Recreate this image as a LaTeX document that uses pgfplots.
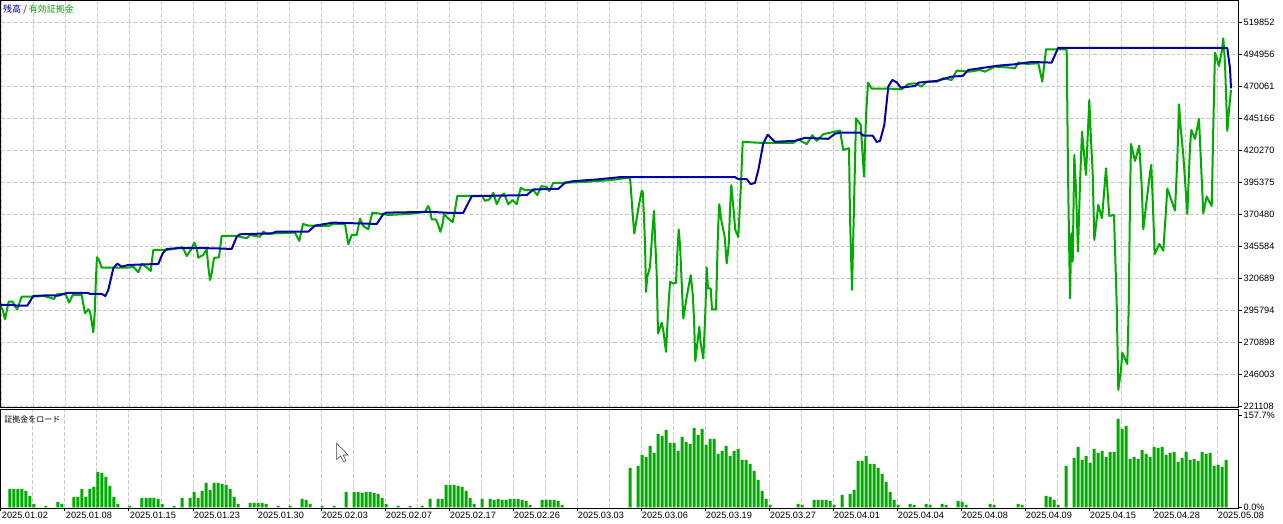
\documentclass[border=0pt]{standalone}
\usepackage{fontspec}
\usepackage{pgfplots}
\usepackage{pgfplotstable}
\pgfplotsset{compat=1.18}
\setmainfont{Liberation Sans}
\newfontfamily\cjk{Noto Sans CJK JP}
\definecolor{eqgreen}{HTML}{00AA00}
\definecolor{balblue}{HTML}{0000AA}
\definecolor{gridgray}{HTML}{C8C8C8}

% x is the screen column, one bar every 4 columns
\pgfplotstableread{
x y
0 300199
2.7 296309
5 289048
7.3 297606
8.7 302792
12.7 302800
15 298902
17.3 296828
19.3 301496
21.7 306682
33.3 306700
43.3 307201
50 305904
54 304867
56.7 308498
63.3 308757
66 307979
69 302014
72.7 307979
81.7 307979
85 293716
88.3 296828
90 295012
91.7 287233
93.3 278934
94.7 293716
96 322242
97 337283
99 335209
101.7 329244
128.3 329244
133.3 330022
138.3 325613
141.7 332097
146.7 329503
150.7 326651
153.3 342988
166.7 342988
173.3 343766
181.7 345063
184 342988
186.7 338321
191.7 344285
194.3 348694
196.7 344285
198.3 337024
203.3 339099
206.7 343507
208.3 330022
210 319649
211.7 324835
214 336765
219 337283
221.7 353880
236.7 353880
246.7 352065
250 354658
255 353880
260 353362
263.3 357252
266.7 355436
276.7 355955
295 356474
299.3 349990
301 355955
303 363216
308.3 361920
321.7 361660
328.3 361660
333.3 363216
345 363216
348.3 347397
351.7 354658
356.7 354658
360 367366
363.3 361660
368.3 359067
372.3 372033
381.7 370996
388.3 370218
408.3 370996
425 372552
428.3 377220
430 373961
431.7 366700
436 366700
438.3 362291
440.3 357104
442.7 363588
444 370849
448.3 367478
452.7 364625
455 373961
457.3 385112
481.7 385112
485 381222
489.3 382259
493.3 387446
496.7 378629
500.7 384853
504 386927
508.3 378629
512.7 381741
516.7 378629
520.7 391336
525 389521
533.3 389521
537.3 385631
541.3 392633
546.7 392114
549.3 388743
553.3 395226
563.3 395226
586.7 396004
610 397300
630 399375
631 389521
632.7 370071
634.3 355808
636.7 367478
638.3 375257
641.7 389002
642.7 388224
644 368774
645 348028
646 310425
647.3 322095
650 329875
652 353214
654 373442
655.3 348028
656.7 324688
658 278009
661.7 286307
663.3 280602
666 263746
668 293568
670 318205
673.3 316908
676 317427
677.3 340248
678.7 358920
680 346731
681.3 324688
683.3 289679
686.7 306535
690.7 323391
692.7 309128
694 289679
695.3 256484
697.7 272822
699.3 283195
700.7 270229
703.3 258559
705.3 293568
706.7 329356
708 313018
710.7 313018
712 296680
716 296680
718 358401
719.3 378629
721.3 366181
724.7 353214
726.7 332468
728.7 346731
730 373961
731.3 393411
733.3 376554
735.3 358401
738.3 353214
740.7 389521
742.7 427123
760 426345
793.3 426345
798.3 428939
806.7 425308
812.3 432310
816.7 427901
823.3 433088
840 435829
843.3 420787
849 422084
850 368921
852 311869
854 376701
856 445424
860.7 440237
864 400041
866 446720
868 473172
871.7 468504
888.3 468504
901.7 467986
908.3 472135
915 472653
921.7 470060
926.7 473950
936.7 473950
943.3 476543
951.7 475247
956.7 482508
970 481730
980 483027
985 481730
995 485620
1010 484842
1015 484323
1018.3 488732
1026.7 487695
1038.3 488213
1042.3 473950
1046 499105
1066.7 499105
1068 402634
1070 305386
1071.3 355955
1072.7 333912
1074.3 416898
1076 389668
1078 341692
1080 394854
1082 435051
1086 401338
1089.3 459687
1090.7 433754
1092.7 402634
1094.3 350768
1098.3 377998
1102 367625
1106 406524
1108.3 380591
1109.3 369440
1114 370218
1115.3 336505
1116.7 301496
1118.3 234070
1121 249630
1122.3 263115
1127.3 254298
1128.7 297606
1130 381888
1131 425455
1135 412230
1139.3 424159
1141.7 392261
1143.3 359067
1146.7 381888
1150 402634
1151.3 409118
1152.7 381888
1154.7 339877
1159.3 347656
1163.3 342470
1166 374108
1167.3 390705
1175 373589
1177.3 413008
1179 456316
1180.7 437644
1183.3 416898
1187.3 370996
1190 423381
1191.3 436347
1195 429345
1199 444905
1200.7 415601
1203.3 371515
1206.7 384481
1211.7 377220
1213.3 438941
1215 496512
1219 486139
1221.7 497290
1223.3 507663
1225 488213
1227.3 435569
1229 451907
1231 467467
}\equitydata

\pgfplotstableread{
x y
0 300199
13.3 300199
16.7 299680
27.3 299680
33.3 307201
48.3 307720
58.3 307460
66.7 309535
88.3 309535
90 308757
101.7 308757
105.3 307201
108.3 311869
113.3 328725
117.3 332356
121.7 330022
128.3 331319
158.3 332097
162.7 340395
166.7 343766
181.7 344544
213.3 344285
231.7 343766
236.7 353362
240 355177
271.7 355955
276.7 357252
308.3 357252
315 361920
333.3 364254
376.7 363216
383.3 370996
386.7 372033
430 372664
448.3 371886
463.3 371886
471.7 384853
526.7 385631
533.3 390039
558.3 390558
565 395226
573.3 396523
596.7 397819
620 399634
735 399634
738.3 398078
746.7 398078
750.7 394189
755 395226
758.3 405080
763.3 425827
767.7 432569
775 427123
795 427901
805 430235
828.3 429457
835 433347
840 434273
860 434273
863.3 431939
872.7 431939
876.7 427011
880 427789
884.3 440237
888.3 470060
892.3 475247
896.7 473431
900.7 469282
915 470579
918.3 473172
936.7 474469
951.7 477840
962.7 478359
968.3 483027
998.3 486398
1015 487435
1031.7 489251
1051.7 488732
1055 494697
1058 500142
1227.3 500142
1230 484323
1231 468764
}\balancedata

\pgfplotstableread{
x y
10 31.5
14 31.5
18 31.5
22 31.5
26 28.1
30 19.5
34 5.7
46 2.3
58 9.2
62 5.7
74 17.8
78 17.8
82 31.5
86 17.8
90 31.5
94 35.0
98 60.8
102 59.1
106 52.2
110 36.7
114 17.8
118 5.7
130 2.3
142 16.1
146 16.1
150 16.1
154 16.1
158 14.3
162 5.7
174 2.3
182 16.1
190 16.1
194 26.4
198 16.1
202 28.1
206 41.9
210 29.8
214 41.9
218 41.9
222 40.1
226 38.4
230 31.5
234 17.8
238 5.7
250 7.5
254 7.5
258 7.5
262 7.5
266 5.7
278 2.3
290 2.3
302 14.3
306 12.6
310 5.7
322 2.3
334 2.3
346 26.4
354 26.4
358 26.4
362 24.7
366 26.4
370 26.4
374 24.7
378 22.9
382 16.1
386 5.7
398 2.3
410 2.3
422 2.3
430 14.3
438 14.3
442 14.3
446 38.4
450 38.4
454 38.4
458 36.7
462 35.0
466 28.1
470 16.1
474 5.7
482 14.3
490 14.3
494 12.6
498 14.3
502 12.6
506 12.6
510 14.3
514 14.3
518 14.3
522 12.6
526 10.9
530 4.0
542 12.6
546 12.6
550 12.6
554 12.6
558 10.9
562 4.0
630 67.7
638 71.1
642 90.0
646 86.6
650 105.5
654 93.5
658 126.2
662 122.7
666 133.1
670 110.7
674 110.7
678 96.9
682 121.0
686 112.4
690 109.0
694 136.5
698 124.5
702 134.8
706 107.2
710 117.6
714 117.6
718 91.8
722 96.9
726 105.5
730 88.3
734 96.9
738 100.4
742 81.4
746 81.4
750 74.6
754 62.5
758 47.0
762 28.1
766 14.3
770 4.0
798 5.7
802 4.0
814 12.6
818 12.6
822 12.6
826 12.6
830 10.9
834 4.0
842 21.2
850 22.9
854 29.8
858 79.7
862 79.7
866 88.3
870 74.6
874 74.6
878 67.7
882 57.4
886 43.6
890 26.4
894 12.6
898 4.0
910 5.7
914 4.0
926 5.7
930 4.0
942 5.7
946 4.0
958 10.9
962 9.2
966 4.0
990 5.7
994 4.0
1018 5.7
1022 4.0
1046 19.5
1050 17.8
1054 12.6
1058 4.0
1066 71.1
1074 84.9
1078 103.8
1082 81.4
1086 88.3
1090 76.3
1094 100.4
1098 93.5
1102 96.9
1106 86.6
1110 95.2
1114 95.2
1118 152.0
1122 134.8
1126 139.9
1130 83.2
1134 86.6
1138 83.2
1142 98.6
1146 91.8
1150 86.6
1154 103.8
1158 102.1
1162 103.8
1166 90.0
1170 93.5
1174 95.2
1178 78.0
1182 84.9
1186 95.2
1190 81.4
1194 83.2
1198 79.7
1202 95.2
1206 91.8
1210 93.5
1214 71.1
1218 72.8
1222 69.4
1226 81.4
}\loaddata

\pgfplotsset{
  panel/.style={
    scale only axis, anchor=south west,
    width=928.65pt, xmin=0.5, xmax=1238.7,
    axis line style={black, line width=0.9pt},
    xtick={1,65,129,193,257,321,385,449,513,577,641,705,769,833,897,961,1025,1089,1153,1217},
    minor xtick={33,97,161,225,289,353,417,481,545,609,673,737,801,865,929,993,1057,1121,1185},
    xmajorgrids, xminorgrids,
    grid style={gridgray, line width=0.75pt, dash pattern=on 3pt off 1.5pt},
    minor tick length=0pt,
    ytick pos=right, xtick pos=bottom,
    tick align=outside, major tick length=2.25pt,
    tick style={black, line width=0.75pt},
    tick label style={font=\fontsize{6.9pt}{8pt}\selectfont},
    yticklabel style={anchor=west, inner sep=0pt, xshift=1.3pt, fill=white},
    scaled y ticks=false,
  },
}

\begin{document}
\begin{tikzpicture}
\useasboundingbox (0,0) rectangle (962.25pt,393pt);

\begin{axis}[panel, name=main,
    at={(0.375pt,87.525pt)}, height=305.25pt,
    ymin=220585, ymax=537227,
    ytick={221108,246003,270898,295794,320689,345584,370480,395375,420270,445166,470061,494956,519852},
    yticklabels={221108,246003,270898,295794,320689,345584,370480,395375,420270,445166,470061,494956,519852},
    xticklabels={}, ymajorgrids,
    x tick style={draw=none},
]
\addplot[eqgreen, line width=1.5pt, line join=round] table {\equitydata};
\addplot[balblue, line width=1.5pt, line join=round] table {\balancedata};
\node[anchor=north west, inner sep=0pt, font=\cjk\fontsize{6.75pt}{8pt}\selectfont]
  at (rel axis cs:0.002,0.99) {\textcolor{balblue}{残高} \textcolor{balblue}{/} \textcolor{eqgreen}{有効証拠金}};
\end{axis}

\begin{axis}[panel, name=margin,
    at={(0.375pt,11.775pt)}, height=74.25pt,
    ymin=-1.7, ymax=168.6,
    ytick={0,157.7},
    yticklabels={0.0\%,157.7\%},
    xticklabels={2025.01.02,2025.01.08,2025.01.15,2025.01.23,2025.01.30,2025.02.03,2025.02.07,2025.02.17,2025.02.26,2025.03.03,2025.03.06,2025.03.19,2025.03.27,2025.04.01,2025.04.04,2025.04.08,2025.04.09,2025.04.15,2025.04.28,2025.05.08},
    xticklabel style={anchor=north west, inner sep=0pt, xshift=0.5pt, yshift=-0.6pt},
]
\addplot[ybar, bar width=2.25pt, bar shift=0pt, fill=eqgreen, draw=none] table {\loaddata};
\node[anchor=north west, inner sep=0pt, font=\cjk\fontsize{6pt}{8pt}\selectfont]
  at (rel axis cs:0.003,0.94) {証拠金をロード};
\end{axis}

% mouse pointer caught in the screenshot
\begin{scope}[shift={(0,393pt)}, x=0.75pt, y=-0.75pt]
\filldraw[fill=white, draw=black!75, line width=0.4pt]
  (336.7,443.3) -- (336.7,459.5) -- (340.5,456) -- (343.5,461.8) -- (346,460.6) -- (343.2,455) -- (348,455) -- cycle;
\end{scope}
\end{tikzpicture}
\end{document}
